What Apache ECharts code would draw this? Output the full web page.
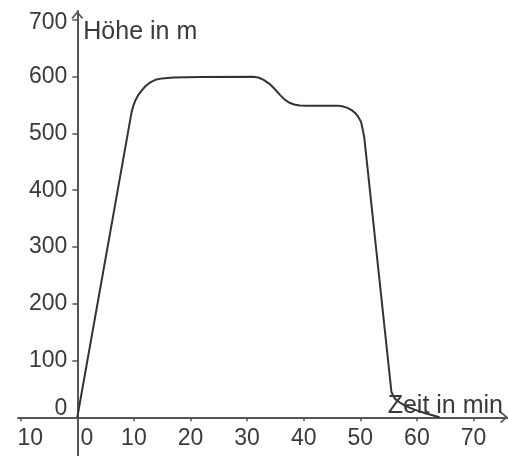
<!DOCTYPE html>
<html>
<head>
<meta charset="utf-8">
<script src="https://cdn.jsdelivr.net/npm/echarts@6/dist/echarts.min.js"></script>
<style>
  html, body { margin: 0; padding: 0; background: #fff; }
  #chart { width: 508px; height: 456px; }
</style>
</head>
<body>
<div id="chart"></div>
<script>
// Altitude profile: time in minutes vs. height in metres
const timeMin = [0, 9.6, 9.9, 10.3, 10.8, 11.4, 12.1, 12.9, 13.8, 15, 17, 22, 31,
  32, 33, 34, 35, 35.8, 36.6, 37.4, 38.3, 39.3, 40.5, 46,
  46.8, 47.6, 48.4, 49.1, 49.6, 50, 50.2, 50.45, 50.7, 55.5,
  55.8, 56.2, 57, 57.8, 58.7, 59.6, 61.5, 64];
const heightM = [0, 538, 549, 559, 568, 576, 584, 590, 594.5, 597, 598.5, 599.5, 600,
  598.5, 594, 587, 577, 568, 560, 554.5, 551, 549.3, 549, 549,
  548, 545.5, 541.5, 536, 530, 523, 518, 506, 493, 45,
  38, 32, 26, 21, 17, 13.5, 7, 0];

const xTicks = [-10, 0, 10, 20, 30, 40, 50, 60, 70];
const xTickText = ['10', '0', '10', '20', '30', '40', '50', '60', '70'];
const yTicks = [0, 100, 200, 300, 400, 500, 600, 700];
const yTickText = ['0', '100', '200', '300', '400', '500', '600', '700'];
const xAxisTitle = 'Zeit in min';
const yAxisTitle = 'Höhe in m';

const axisColor = '#555';
const textColor = '#3a3a3a';
const font = 'Liberation Sans';
// open chevron used as the arrow head at the end of both axes
const chevron = 'path://M6,0 L12,7 L10.6,8 L6,2.6 L1.4,8 L0,7 Z';

// plot area and axis ranges; the axes cross at the origin
const gridRect = { left: 18, right: 0, top: 11, bottom: 0 };
const xRange = [-10.48, 76.1];
const yRange = [-68.2, 715.7];
const plotW = 508 - gridRect.left - gridRect.right;
const plotH = 456 - gridRect.top - gridRect.bottom;
// shift each axis from the grid edge to the zero of the other axis
const xAxisShift = -plotH * (0 - yRange[0]) / (yRange[1] - yRange[0]);
const yAxisShift = -plotW * (0 - xRange[0]) / (xRange[1] - xRange[0]);

const points = timeMin.map((t, i) => [t, heightM[i]]);

const chart = echarts.init(document.getElementById('chart'), null, { renderer: 'canvas' });
chart.setOption({
  animation: false,
  backgroundColor: '#fff',
  grid: Object.assign({ containLabel: false, outerBoundsMode: 'none' }, gridRect),
  // title of the time axis, sitting just above the right end of the x axis
  graphic: [{
    type: 'text',
    x: 503,
    y: 406,
    z: 10,
    style: {
      text: xAxisTitle,
      align: 'right',
      verticalAlign: 'middle',
      fontSize: 25,
      fontFamily: font,
      fill: textColor
    }
  }],
  xAxis: {
    type: 'value',
    min: xRange[0],
    max: xRange[1],
    offset: xAxisShift,
    splitLine: { show: false },
    axisLine: {
      onZero: false,
      lineStyle: { color: axisColor, width: 2 },
      symbol: ['none', chevron],
      symbolSize: [12, 9],
      symbolOffset: [0, -4]
    },
    axisTick: { show: true, customValues: xTicks, length: 4, lineStyle: { color: axisColor, width: 1.5 } },
    axisLabel: {
      customValues: xTicks,
      margin: 10,
      fontSize: 23,
      fontFamily: font,
      color: textColor,
      formatter: function (v) {
        const txt = xTickText[xTicks.indexOf(v)];
        return v <= 0 ? '{s|' + txt + '}' : txt;
      },
      rich: {
        s: { padding: [0, 0, 0, 19], fontSize: 23, fontFamily: font, color: textColor }
      }
    }
  },
  yAxis: {
    type: 'value',
    min: yRange[0],
    max: yRange[1],
    offset: yAxisShift,
    splitLine: { show: false },
    axisLine: {
      onZero: false,
      lineStyle: { color: axisColor, width: 2 },
      symbol: ['none', chevron],
      symbolSize: [12, 9],
      symbolOffset: [0, -4]
    },
    axisTick: { show: true, customValues: yTicks, length: 5, lineStyle: { color: axisColor, width: 1.5 } },
    axisLabel: {
      customValues: yTicks,
      margin: 10,
      fontSize: 23,
      fontFamily: font,
      color: textColor,
      formatter: function (v) {
        const txt = yTickText[yTicks.indexOf(v)];
        if (v === 0) return '{z|' + txt + '}';
        if (v === 700) return '{t|' + txt + '}';
        return txt;
      },
      rich: {
        z: { padding: [0, 0, 18, 0], fontSize: 23, fontFamily: font, color: textColor },
        t: { padding: [5, 0, 0, 0], fontSize: 23, fontFamily: font, color: textColor }
      }
    },
    name: yAxisTitle,
    nameLocation: 'end',
    nameGap: -21,
    nameTextStyle: {
      align: 'left',
      verticalAlign: 'middle',
      padding: [0, 0, 0, 6],
      fontSize: 25,
      fontFamily: font,
      color: textColor
    }
  },
  series: [{
    type: 'line',
    data: points,
    showSymbol: false,
    smooth: false,
    lineStyle: { color: '#333', width: 2, join: 'round' },
    z: 5
  }]
});
</script>
</body>
</html>
